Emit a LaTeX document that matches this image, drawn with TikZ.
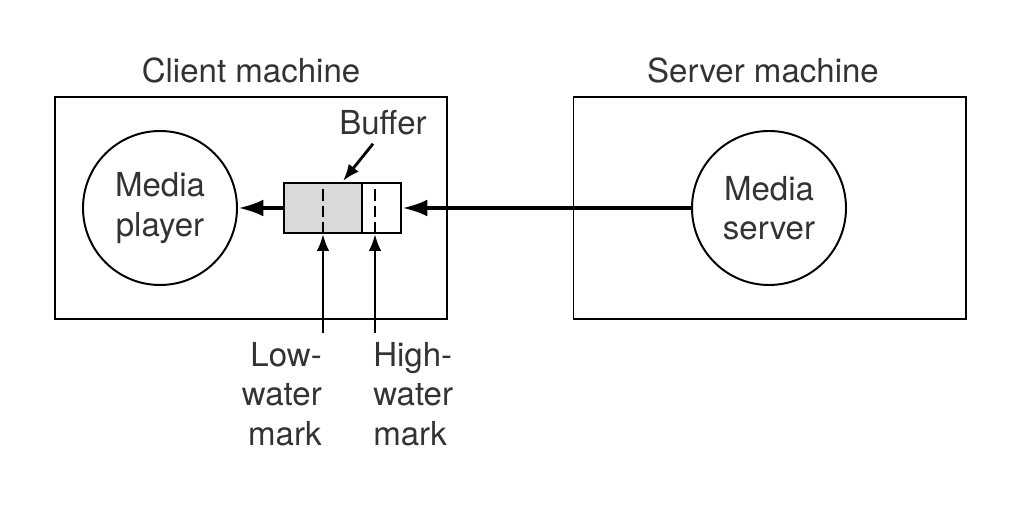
\documentclass[tikz,border=0pt]{standalone}
\usepackage{fontspec}
\setmainfont{TeX Gyre Heros}
\usetikzlibrary{arrows.meta,positioning}

\tikzstyle{txt} = [text centered, inner sep=0pt, text=black!80]
\tikzstyle{machine} = [draw, line width=1.4pt, minimum width=9.8cm, minimum height=5.55cm]
\tikzstyle{proc} = [draw, circle, line width=1.4pt, minimum size=3.85cm, align=center, text=black!80]
\tikzstyle{bufbox} = [draw, line width=1.4pt, minimum width=2.925cm, minimum height=1.25cm, inner sep=0pt]
\tikzstyle{flow} = [line width=3pt, -{Latex[length=18pt,width=12pt]}]
\tikzstyle{pointer} = [line width=2pt, -{Latex[length=12pt,width=9pt]}]

\begin{document}
\begin{tikzpicture}[scale=1.0,
>=latex,
font=\fontsize{23.5}{28}\selectfont,
]
\useasboundingbox (0,0) rectangle (25.5,12.675);

% CLIENT
\node[machine] (client) at (6.275,7.475) {};
\node[txt, anchor=base] (clientlbl) at (6.275,10.6) {Client machine};
\node[proc] (player) at (4.0,7.475) {Media\\player};

% SERVER
\node[machine] (servbox) at (19.2375,7.475) {};
\node[txt, anchor=base] (serverlbl) at (19.075,10.6) {Server machine};
\node[proc] (server) at (19.225,7.475) {Media\\server};

% BUFFER
\fill[black!15] (7.1,6.85) rectangle (9.05,8.1);
\node[bufbox] (buffer) at (8.5625,7.475) {};
\draw[line width=1.4pt] (9.05,6.85) -- (9.05,8.1);
\foreach \x in {8.075,9.375} {%
 \draw[line width=1.2pt, dash pattern=on 8pt off 3.5pt] (\x,6.85) -- (\x,8.1);
}
\node[txt, anchor=base] (buflbl) at (9.575,9.3) {Buffer};
\coordinate (bufin) at (8.575,8.15);
\draw[pointer] ([shift={(-0.25,-0.2)}]buflbl.south) -- (bufin);

% STREAM
\draw[flow] (server.west) -- (buffer.east);
\draw[flow] (buffer.west) -- (player.east);

% WATER MARKS
\coordinate (lowmk) at (8.075,4.35);
\coordinate (highmk) at (9.375,4.35);
\draw[pointer] (lowmk) -- (lowmk |- buffer.south);
\draw[pointer] (highmk) -- (highmk |- buffer.south);
\node[txt, align=right, anchor=north east] (lowlbl) at (8.05,4.12) {Low-\\water\\mark};
\node[txt, align=left, anchor=north west] (highlbl) at (9.325,4.12) {High-\\water\\mark};

\end{tikzpicture}
\end{document}
